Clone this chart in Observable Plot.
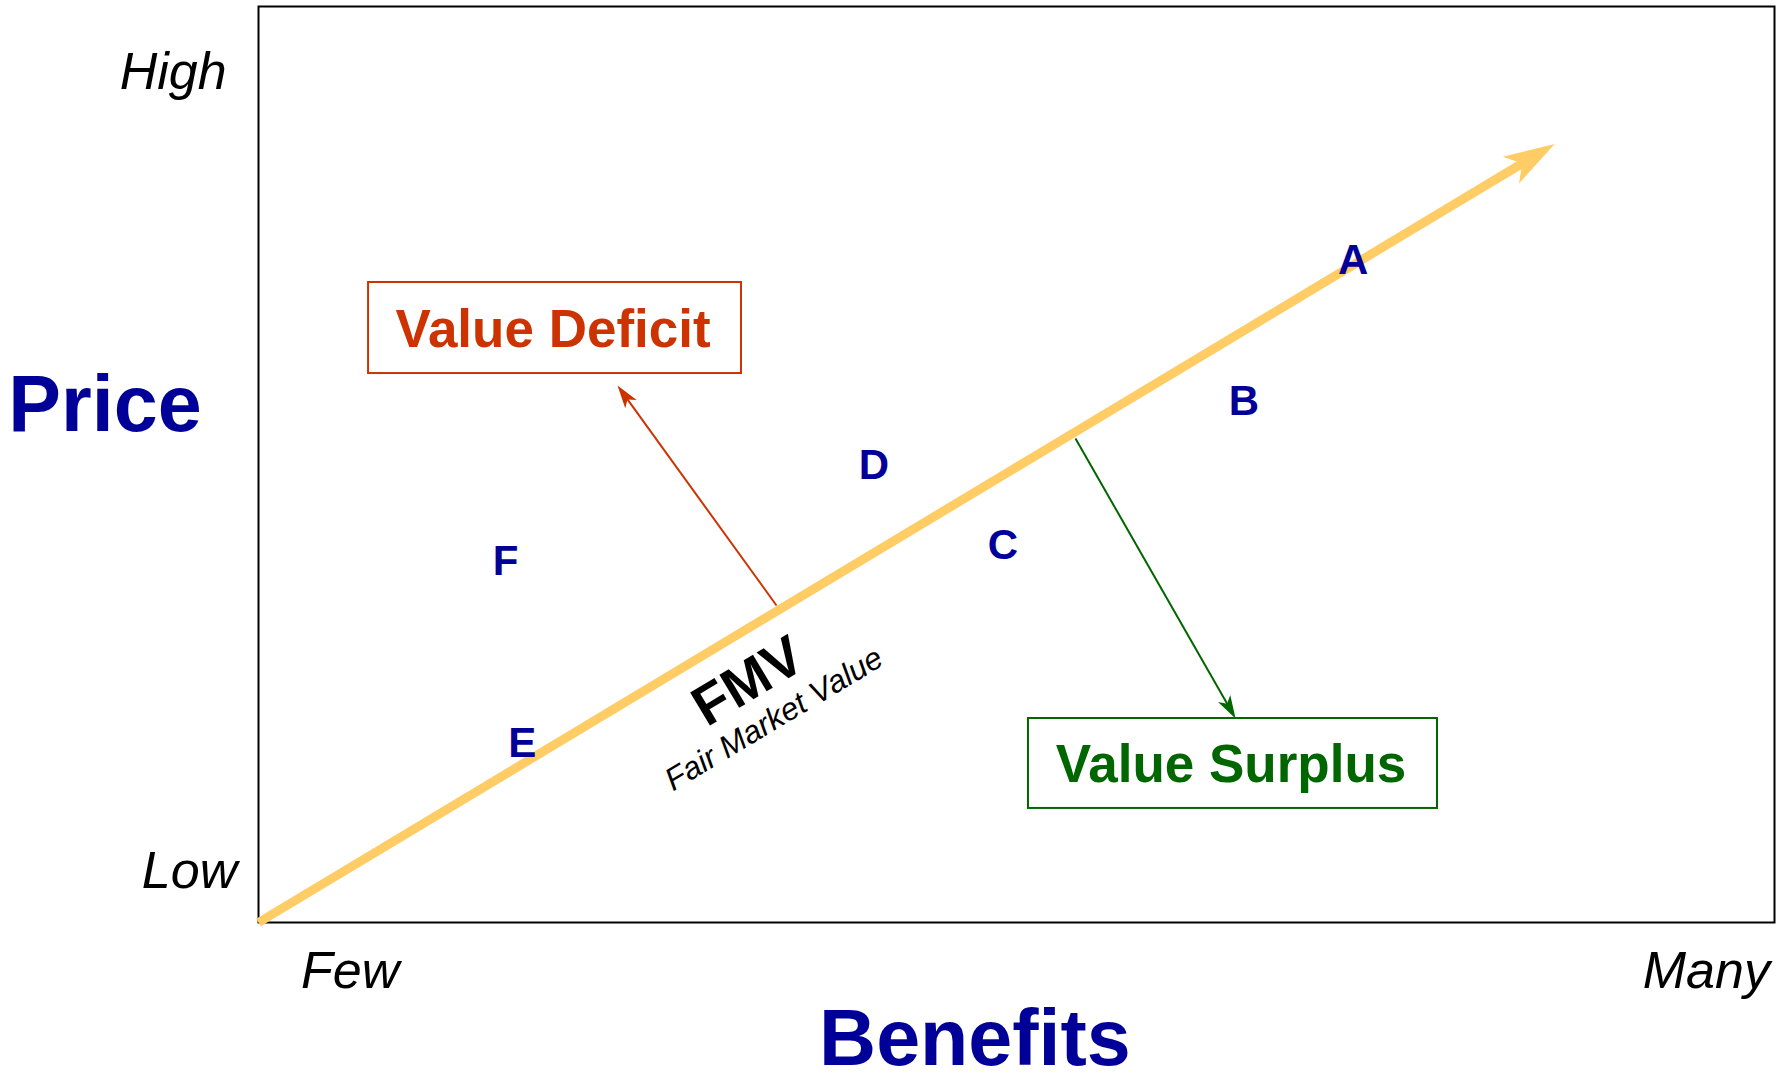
<!DOCTYPE html>
<html>
<head>
<meta charset="utf-8">
<script src="https://cdn.jsdelivr.net/npm/d3@7"></script>
<script src="https://cdn.jsdelivr.net/npm/@observablehq/plot@0.6"></script>
<style>
  html, body { margin: 0; padding: 0; background: #ffffff; }
  #chart svg { display: block; }
</style>
</head>
<body>
<div id="chart"></div>
<script>
// ---- Data (conceptual 0–100 scales: Benefits → x, Price → y) ----
const letters   = ["A", "B", "C", "D", "E", "F"];
const benefits  = [72.2, 65.0, 49.1, 40.6, 17.4, 16.3];
const prices    = [72.3, 56.9, 41.2, 49.9, 19.5, 39.4];

// Fair market value line (start, arrow tip)
const fmvBenefits = [0, 85.5];
const fmvPrices   = [0, 85.0];

// Axis level labels
const priceLevels     = ["High", "Low"];
const priceLevelY     = [92.8, 5.63];
const priceLevelX     = [-2.1, -1.4];
const benefitLevels   = ["Few", "Many"];
const benefitLevelX   = [2.8, 99.7];
const benefitLevelY   = [-5.29, -5.29];

// Annotation boxes
const boxNames  = ["Value Deficit", "Value Surplus"];
const boxX1     = [7.26, 50.79];
const boxX2     = [31.86, 77.77];
const boxY1     = [59.93, 12.45];
const boxY2     = [69.87, 22.27];
const boxTextX  = [19.43, 64.15];
const boxTextY  = [64.63, 17.14];
const boxColors = ["#CC3300", "#006600"];

// Annotation arrows: from the FMV line to the boxes
const arrowX1 = [34.17, 53.89];
const arrowY1 = [34.61, 52.84];
const arrowX2 = [23.68, 64.45];
const arrowY2 = [58.62, 22.27];

// ---- Layout ----
const W = 1790, H = 1075;
const mL = 258, mR = 16, mT = 6, mB = 153;
const kx = (W - mL - mR) / 100, ky = (H - mT - mB) / 100;
const angle = (x1, y1, x2, y2) => Math.atan2(-(y2 - y1) * ky, (x2 - x1) * kx) * 180 / Math.PI;
// point `px` pixels back from (x2,y2) towards (x1,y1), in data units
function backOff(x1, y1, x2, y2, px) {
  const dx = (x2 - x1) * kx, dy = (y2 - y1) * ky;
  const len = Math.hypot(dx, dy);
  return [x2 - (dx / len) * px / kx, y2 - (dy / len) * px / ky];
}

// Barbed, filled arrowhead symbol: tip at origin, pointing to +x; r = head length
const barbHead = {
  draw(context, size) {
    const L = Math.sqrt(size / Math.PI);
    context.moveTo(0, 0);
    context.lineTo(-L, -0.307 * L);
    context.lineTo(-0.745 * L, 0);
    context.lineTo(-L, 0.307 * L);
    context.closePath();
  }
};

const yellow = "#FFCC66";
const navy = "#000099";
const font = "'Liberation Sans', Arial, Helvetica, sans-serif";

// FMV shaft + head
const fmvEnd = backOff(fmvBenefits[0], fmvPrices[0], fmvBenefits[1], fmvPrices[1], 36);
const fmvShaft = [{x1: fmvBenefits[0], y1: fmvPrices[0], x2: fmvEnd[0], y2: fmvEnd[1]}];
const fmvHead = [{x: fmvBenefits[1], y: fmvPrices[1],
  rot: angle(fmvBenefits[0], fmvPrices[0], fmvBenefits[1], fmvPrices[1])}];
const fmvAngle = fmvHead[0].rot;

const arrows = arrowX1.map((x1, i) => {
  const e = backOff(x1, arrowY1[i], arrowX2[i], arrowY2[i], 14);
  return {x1, y1: arrowY1[i], x2: arrowX2[i], y2: arrowY2[i], ex: e[0], ey: e[1],
    color: boxColors[i], rot: angle(x1, arrowY1[i], arrowX2[i], arrowY2[i])};
});

const pts = letters.map((l, i) => ({label: l, x: benefits[i], y: prices[i]}));
const boxes = boxNames.map((n, i) => ({name: n, x1: boxX1[i], x2: boxX2[i], y1: boxY1[i], y2: boxY2[i],
  tx: boxTextX[i], ty: boxTextY[i], color: boxColors[i]}));
const yLev = priceLevels.map((t, i) => ({t, x: priceLevelX[i], y: priceLevelY[i]}));
const xLev = benefitLevels.map((t, i) => ({t, x: benefitLevelX[i], y: benefitLevelY[i]}));

const chart = Plot.plot({
  width: W, height: H,
  marginLeft: mL, marginRight: mR, marginTop: mT, marginBottom: mB,
  x: {domain: [0, 100], axis: null},
  y: {domain: [0, 100], axis: null},
  style: {fontFamily: font, background: "#ffffff", overflow: "visible"},
  marks: [
    Plot.frame({stroke: "#000000", strokeWidth: 2}),
    // boxes
    Plot.rect(boxes, {x1: "x1", x2: "x2", y1: "y1", y2: "y2", fill: "#ffffff", stroke: "color", strokeWidth: 2}),
    Plot.text(boxes, {x: "tx", y: "ty", text: "name", fill: "color", fontSize: 53, fontWeight: "bold"}),
    // annotation arrows
    Plot.link(arrows, {x1: "x1", y1: "y1", x2: "ex", y2: "ey", stroke: "color", strokeWidth: 2}),
    Plot.dot(arrows, {x: "x2", y: "y2", r: 23, symbol: barbHead, fill: "color", rotate: "rot"}),
    // FMV line
    Plot.link(fmvShaft, {x1: "x1", y1: "y1", x2: "x2", y2: "y2", stroke: yellow, strokeWidth: 9}),
    Plot.dot(fmvHead, {x: "x", y: "y", r: 51, symbol: barbHead, fill: yellow, rotate: "rot"}),
    Plot.text(["FMV"], {x: () => 32.3, y: () => 26.3, text: d => d, rotate: fmvAngle, fontSize: 56, fontWeight: "bold", fill: "#000000"}),
    Plot.text(["Fair Market Value"], {x: () => 34.0, y: () => 22.2, text: d => d, rotate: fmvAngle, fontSize: 31.5, fontStyle: "italic", fill: "#000000"}),
    // letters
    Plot.text(pts, {x: "x", y: "y", text: "label", fill: navy, fontSize: 42, fontWeight: "bold"}),
    // level labels
    Plot.text(yLev, {x: "x", y: "y", text: "t", textAnchor: "end", fontSize: 52, fontStyle: "italic", fill: "#000000"}),
    Plot.text(xLev.slice(0, 1), {x: "x", y: "y", text: "t", textAnchor: "start", fontSize: 52, fontStyle: "italic", fill: "#000000"}),
    Plot.text(xLev.slice(1), {x: "x", y: "y", text: "t", textAnchor: "end", fontSize: 52, fontStyle: "italic", fill: "#000000"}),
    // axis titles
    Plot.text(["Price"], {x: () => -16.5, y: () => 56.47, text: d => d, textAnchor: "start", fontSize: 79, fontWeight: "bold", fill: navy}),
    Plot.text(["Benefits"], {x: () => 47.26, y: () => -12.8, text: d => d, fontSize: 79, fontWeight: "bold", fill: navy})
  ]
});
document.getElementById("chart").appendChild(chart);
</script>
</body>
</html>
